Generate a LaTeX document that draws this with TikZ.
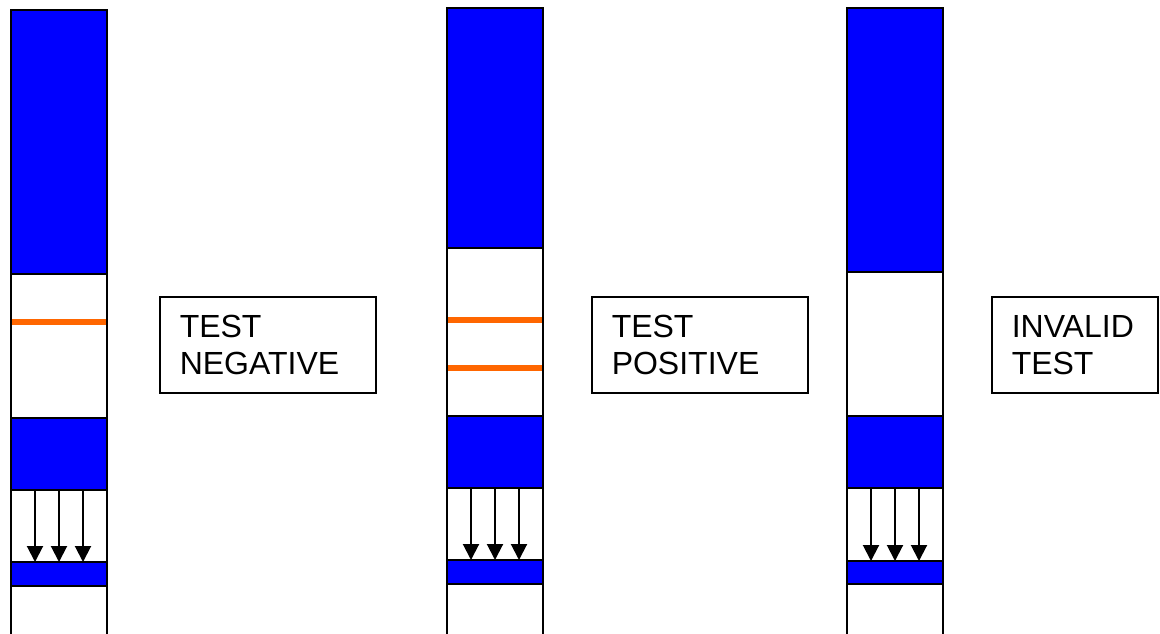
\documentclass[tikz,border=0pt]{standalone}
\usepackage{fontspec}
\setmainfont{Liberation Sans}
\usetikzlibrary{arrows.meta}
\definecolor{stripblue}{HTML}{0000FF}
\definecolor{lineorange}{HTML}{FF6600}
\tikzset{
  bluepad/.style={fill=stripblue, draw=black, line width=2pt},
  stripside/.style={draw=black, line width=2pt},
  testline/.style={draw=lineorange, line width=5.5pt},
  flow/.style={draw=black, line width=2pt, -{Triangle[length=16pt,width=16pt]}},
  result/.style={draw=black, line width=1.5pt, anchor=north west, minimum width=216pt, minimum height=96pt, text width=176pt, align=left, inner xsep=20pt, font=\fontsize{32}{37}\selectfont},
}
\begin{document}
\begin{tikzpicture}[x=1pt,y=-1pt]
\useasboundingbox (0,0) rectangle (1160,633);
% ---------- strip 1 ----------
\draw[stripside] (11,274) -- (11,640);
\draw[stripside] (107,274) -- (107,640);
\fill[bluepad] (11,10) rectangle (107,274);
\draw[testline] (12,322) -- (106,322);
\fill[bluepad] (11,418) rectangle (107,490);
\fill[bluepad] (11,562) rectangle (107,586);
\foreach \i/\x in {a/35,b/59,c/83}{
  \coordinate (s1\i top) at (\x,490);
  \coordinate (s1\i bot) at (\x,562);
  \draw[flow] (s1\i top) -- (s1\i bot);
}
\node[result] (neg) at (159,296) {TEST\\NEGATIVE};
% ---------- strip 2 ----------
\draw[stripside] (447,248) -- (447,640);
\draw[stripside] (543,248) -- (543,640);
\fill[bluepad] (447,8) rectangle (543,248);
\draw[testline] (448,320) -- (542,320);
\draw[testline] (448,368) -- (542,368);
\fill[bluepad] (447,416) rectangle (543,488);
\fill[bluepad] (447,560) rectangle (543,584);
\foreach \i/\x in {a/471,b/495,c/519}{
  \coordinate (s2\i top) at (\x,488);
  \coordinate (s2\i bot) at (\x,560);
  \draw[flow] (s2\i top) -- (s2\i bot);
}
\node[result] (pos) at (591,296) {TEST\\POSITIVE};
% ---------- strip 3 ----------
\draw[stripside] (847,272) -- (847,640);
\draw[stripside] (943,272) -- (943,640);
\fill[bluepad] (847,8) rectangle (943,272);
\fill[bluepad] (847,416) rectangle (943,488);
\fill[bluepad] (847,561) rectangle (943,584);
\foreach \i/\x in {a/871,b/895,c/919}{
  \coordinate (s3\i top) at (\x,488);
  \coordinate (s3\i bot) at (\x,561);
  \draw[flow] (s3\i top) -- (s3\i bot);
}
\node[result, minimum width=166pt, text width=126pt] (inv) at (991,296) {INVALID\\TEST};
\end{tikzpicture}
\end{document}
